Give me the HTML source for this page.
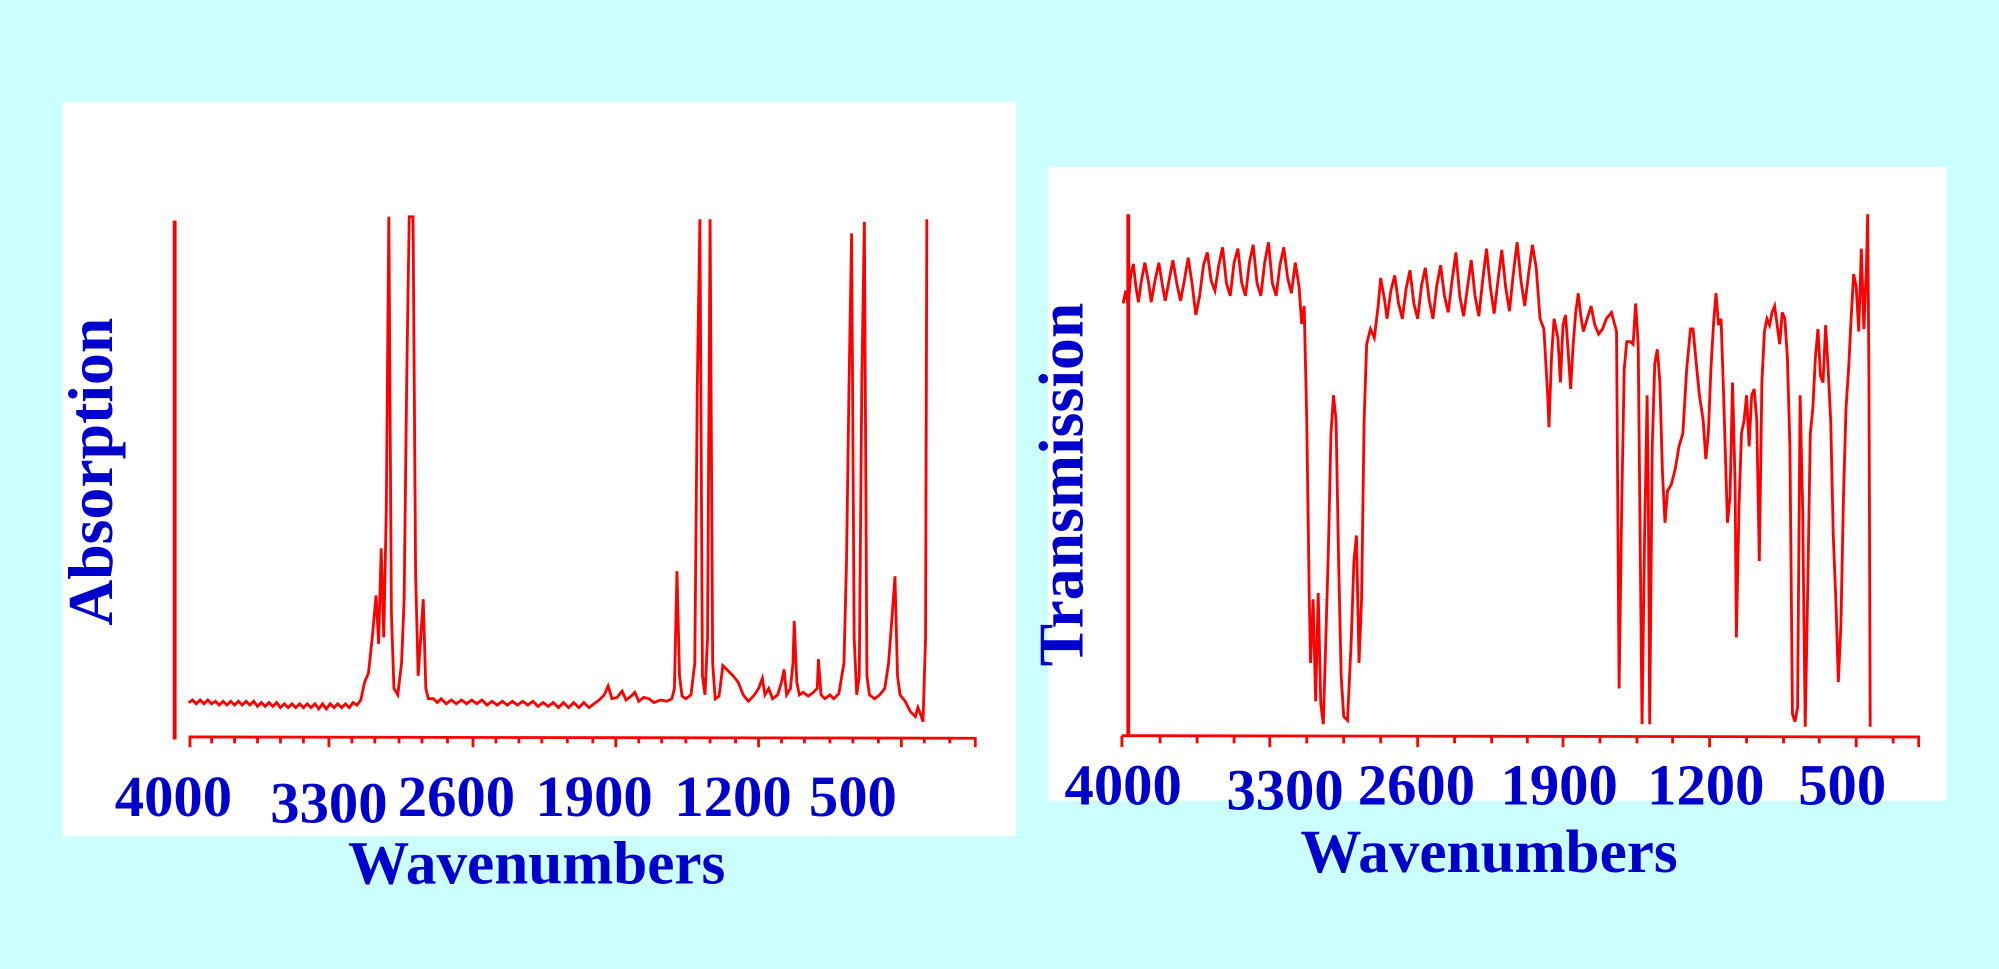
<!DOCTYPE html>
<html><head><style>
html,body{margin:0;padding:0;background:#ccffff;}
svg{display:block}
text{font-family:"Liberation Serif",serif;font-weight:bold;fill:#0000cc}
</style></head><body>
<svg width="1999" height="969" viewBox="0 0 1568 760" preserveAspectRatio="none">
<rect width="1568" height="760" fill="#ccffff"/>
<rect x="49" y="80" width="748" height="576" fill="#fff"/>
<rect x="822" y="131" width="705" height="497" fill="#fff"/>
<g stroke="red" fill="none" stroke-width="2.2">
<line x1="137" y1="173" x2="137" y2="580" stroke-width="3"/>
<line x1="148" y1="578" x2="765" y2="579"/>
<path d="M149 578v8M166 578v5M184 578v5M202 578v5M220 578v5M238 578v5M258 578v8M276 578v5M294 578v5M313 578v5M331 578v5M351 578v5M371 578v8M389 578v5M407 578v5M425 578v5M445 578v5M465 578v5M483 578v8M501 578v5M519 578v5M538 578v5M557 578v5M577 578v5M595 578v8M613 578v5M631 578v5M651 578v5M669 578v5M689 578v5M707 578v8M725 578v5M745 578v5M765 578v8"/>
<path stroke-width="2.2" d="M148 551 L151 549 L154 552 L157 549 L160 552 L163 549 L166 552 L169 550 L172 553 L175 550 L178 553 L181 550 L184 553 L187 550 L190 553 L193 550 L196 553 L199 550 L202 554 L205 551 L208 554 L211 551 L214 554 L217 551 L220 555 L223 552 L226 555 L229 552 L232 555 L235 552 L238 555 L241 552 L244 555 L247 552 L250 556 L253 552 L256 556 L259 552 L262 555 L265 552 L268 555 L271 552 L274 555 L277 551 L280 553 L283 549 L286 535 L289 528 L292 500 L295 467 L297 505 L299 430 L301 500 L303 400 L305 170 L307 480 L309 540 L312 545 L315 520 L317 470 L319 300 L321 170 L324 170 L326 450 L328 530 L330 500 L332 470 L334 540 L336 548 L340 548 L343 551 L346 548 L350 552 L354 549 L358 552 L362 549 L366 552 L370 549 L374 552 L378 549 L382 553 L386 550 L390 553 L394 550 L398 553 L402 550 L406 553 L410 550 L414 553 L418 550 L422 554 L426 551 L430 554 L434 551 L438 555 L442 551 L446 555 L450 551 L454 555 L458 551 L462 555 L466 552 L470 549 L474 545 L477 538 L480 548 L484 547 L488 542 L491 549 L495 546 L498 543 L501 550 L505 547 L509 548 L513 551 L518 549 L523 550 L527 548 L529 540 L531 448 L533 530 L535 546 L538 548 L542 545 L545 520 L547 300 L549 172 L551 530 L553 545 L555 500 L557 172 L559 520 L561 548 L564 546 L567 522 L571 526 L575 530 L579 535 L583 545 L587 550 L591 546 L595 540 L598 532 L600 545 L603 540 L606 548 L610 545 L613 535 L615 525 L617 545 L620 540 L622 520 L623 487 L625 535 L627 545 L630 543 L634 546 L638 543 L641 540 L642 517 L644 545 L647 548 L651 545 L654 548 L658 544 L662 520 L664 440 L666 300 L668 183 L670 500 L672 545 L674 530 L676 300 L678 174 L680 530 L682 545 L686 548 L690 545 L694 540 L697 520 L700 480 L702 452 L704 530 L706 545 L710 550 L714 558 L718 562 L720 555 L722 560 L724 566 L726 500 L727 172"/>
<line x1="885" y1="168" x2="885" y2="578" stroke-width="3"/>
<line x1="880" y1="577" x2="1505" y2="578"/>
<path d="M880 577v9M910 577v6M939 577v6M968 577v6M996 577v9M1025 577v6M1054 577v6M1083 577v6M1112 577v9M1141 577v6M1170 577v6M1198 577v6M1226 577v9M1255 577v6M1284 577v6M1312 577v6M1341 577v9M1370 577v6M1399 577v6M1427 577v6M1456 577v9M1485 577v6M1505 577v9"/>
<path stroke-width="2.2" d="M881 238 L883 228 L885 240 L887 215 L889 207 L891 225 L893 237 L895 222 L898 206 L901 222 L903 237 L906 220 L909 206 L912 225 L914 236 L917 220 L920 204 L923 222 L926 236 L929 220 L932 202 L935 222 L938 247 L941 232 L944 208 L947 198 L950 220 L953 228 L956 208 L959 194 L962 222 L965 232 L968 206 L971 195 L974 222 L977 232 L980 206 L983 192 L986 222 L989 232 L992 206 L995 190 L998 222 L1001 232 L1004 208 L1007 194 L1010 218 L1013 230 L1016 206 L1019 225 L1021 254 L1023 240 L1025 330 L1027 470 L1028 520 L1030 470 L1032 550 L1034 465 L1036 552 L1038 568 L1040 500 L1042 430 L1044 340 L1046 310 L1048 330 L1050 440 L1052 530 L1054 562 L1057 565 L1060 500 L1062 440 L1064 420 L1066 520 L1068 470 L1070 330 L1072 270 L1075 258 L1078 265 L1081 240 L1083 218 L1086 235 L1088 250 L1091 228 L1094 216 L1097 238 L1100 250 L1103 226 L1106 212 L1109 238 L1112 250 L1115 224 L1118 210 L1121 235 L1124 250 L1127 224 L1130 208 L1133 232 L1136 245 L1139 220 L1142 198 L1145 232 L1148 248 L1151 226 L1154 204 L1157 232 L1160 248 L1163 220 L1166 195 L1169 225 L1172 246 L1175 220 L1178 196 L1181 225 L1184 244 L1187 215 L1190 190 L1193 220 L1196 240 L1199 215 L1202 192 L1205 210 L1208 250 L1211 258 L1214 310 L1215 335 L1217 280 L1219 250 L1222 265 L1224 300 L1226 255 L1228 247 L1230 275 L1232 305 L1234 270 L1236 245 L1238 230 L1240 248 L1242 260 L1245 250 L1248 240 L1251 255 L1254 262 L1257 258 L1260 250 L1264 245 L1268 260 L1270 540 L1272 400 L1274 290 L1276 268 L1279 268 L1281 270 L1283 238 L1285 270 L1287 470 L1288 568 L1290 420 L1292 310 L1293 400 L1294 568 L1296 350 L1298 285 L1300 274 L1302 300 L1304 370 L1306 410 L1308 385 L1311 380 L1314 368 L1317 350 L1320 340 L1323 290 L1326 258 L1328 258 L1331 290 L1333 310 L1336 330 L1338 360 L1340 340 L1342 290 L1344 255 L1346 230 L1348 255 L1350 250 L1352 310 L1355 410 L1357 390 L1359 300 L1361 380 L1362 500 L1364 400 L1366 340 L1368 330 L1370 310 L1372 350 L1374 310 L1376 305 L1378 330 L1380 440 L1382 300 L1384 260 L1386 250 L1388 255 L1390 245 L1392 240 L1394 255 L1396 270 L1398 245 L1400 250 L1402 280 L1404 350 L1406 560 L1408 566 L1410 555 L1412 310 L1414 400 L1416 570 L1418 460 L1420 340 L1422 320 L1424 280 L1426 258 L1428 295 L1430 300 L1432 255 L1434 290 L1436 330 L1438 420 L1440 470 L1442 535 L1444 490 L1446 390 L1448 320 L1450 290 L1452 250 L1454 215 L1456 225 L1458 260 L1460 195 L1462 258 L1464 210 L1465 168 L1466 300 L1467 570"/>
</g>
<g font-size="46">
<text x="136" y="640" text-anchor="middle">4000</text>
<text x="258" y="645" text-anchor="middle">3300</text>
<text x="358" y="640" text-anchor="middle">2600</text>
<text x="466" y="640" text-anchor="middle">1900</text>
<text x="575" y="640" text-anchor="middle">1200</text>
<text x="669" y="640" text-anchor="middle">500</text>
<text x="421" y="693" text-anchor="middle" font-size="48">Wavenumbers</text>
<text x="88" y="370" text-anchor="middle" transform="rotate(-90 88 370)" font-size="50">Absorption</text>
<text x="881" y="631" text-anchor="middle">4000</text>
<text x="1008" y="635" text-anchor="middle">3300</text>
<text x="1111" y="631" text-anchor="middle">2600</text>
<text x="1223" y="631" text-anchor="middle">1900</text>
<text x="1338" y="631" text-anchor="middle">1200</text>
<text x="1445" y="631" text-anchor="middle">500</text>
<text x="1168" y="684" text-anchor="middle" font-size="48">Wavenumbers</text>
<text x="849" y="380" text-anchor="middle" transform="rotate(-90 849 380)" font-size="50">Transmission</text>
</g>
</svg>
</body></html>
